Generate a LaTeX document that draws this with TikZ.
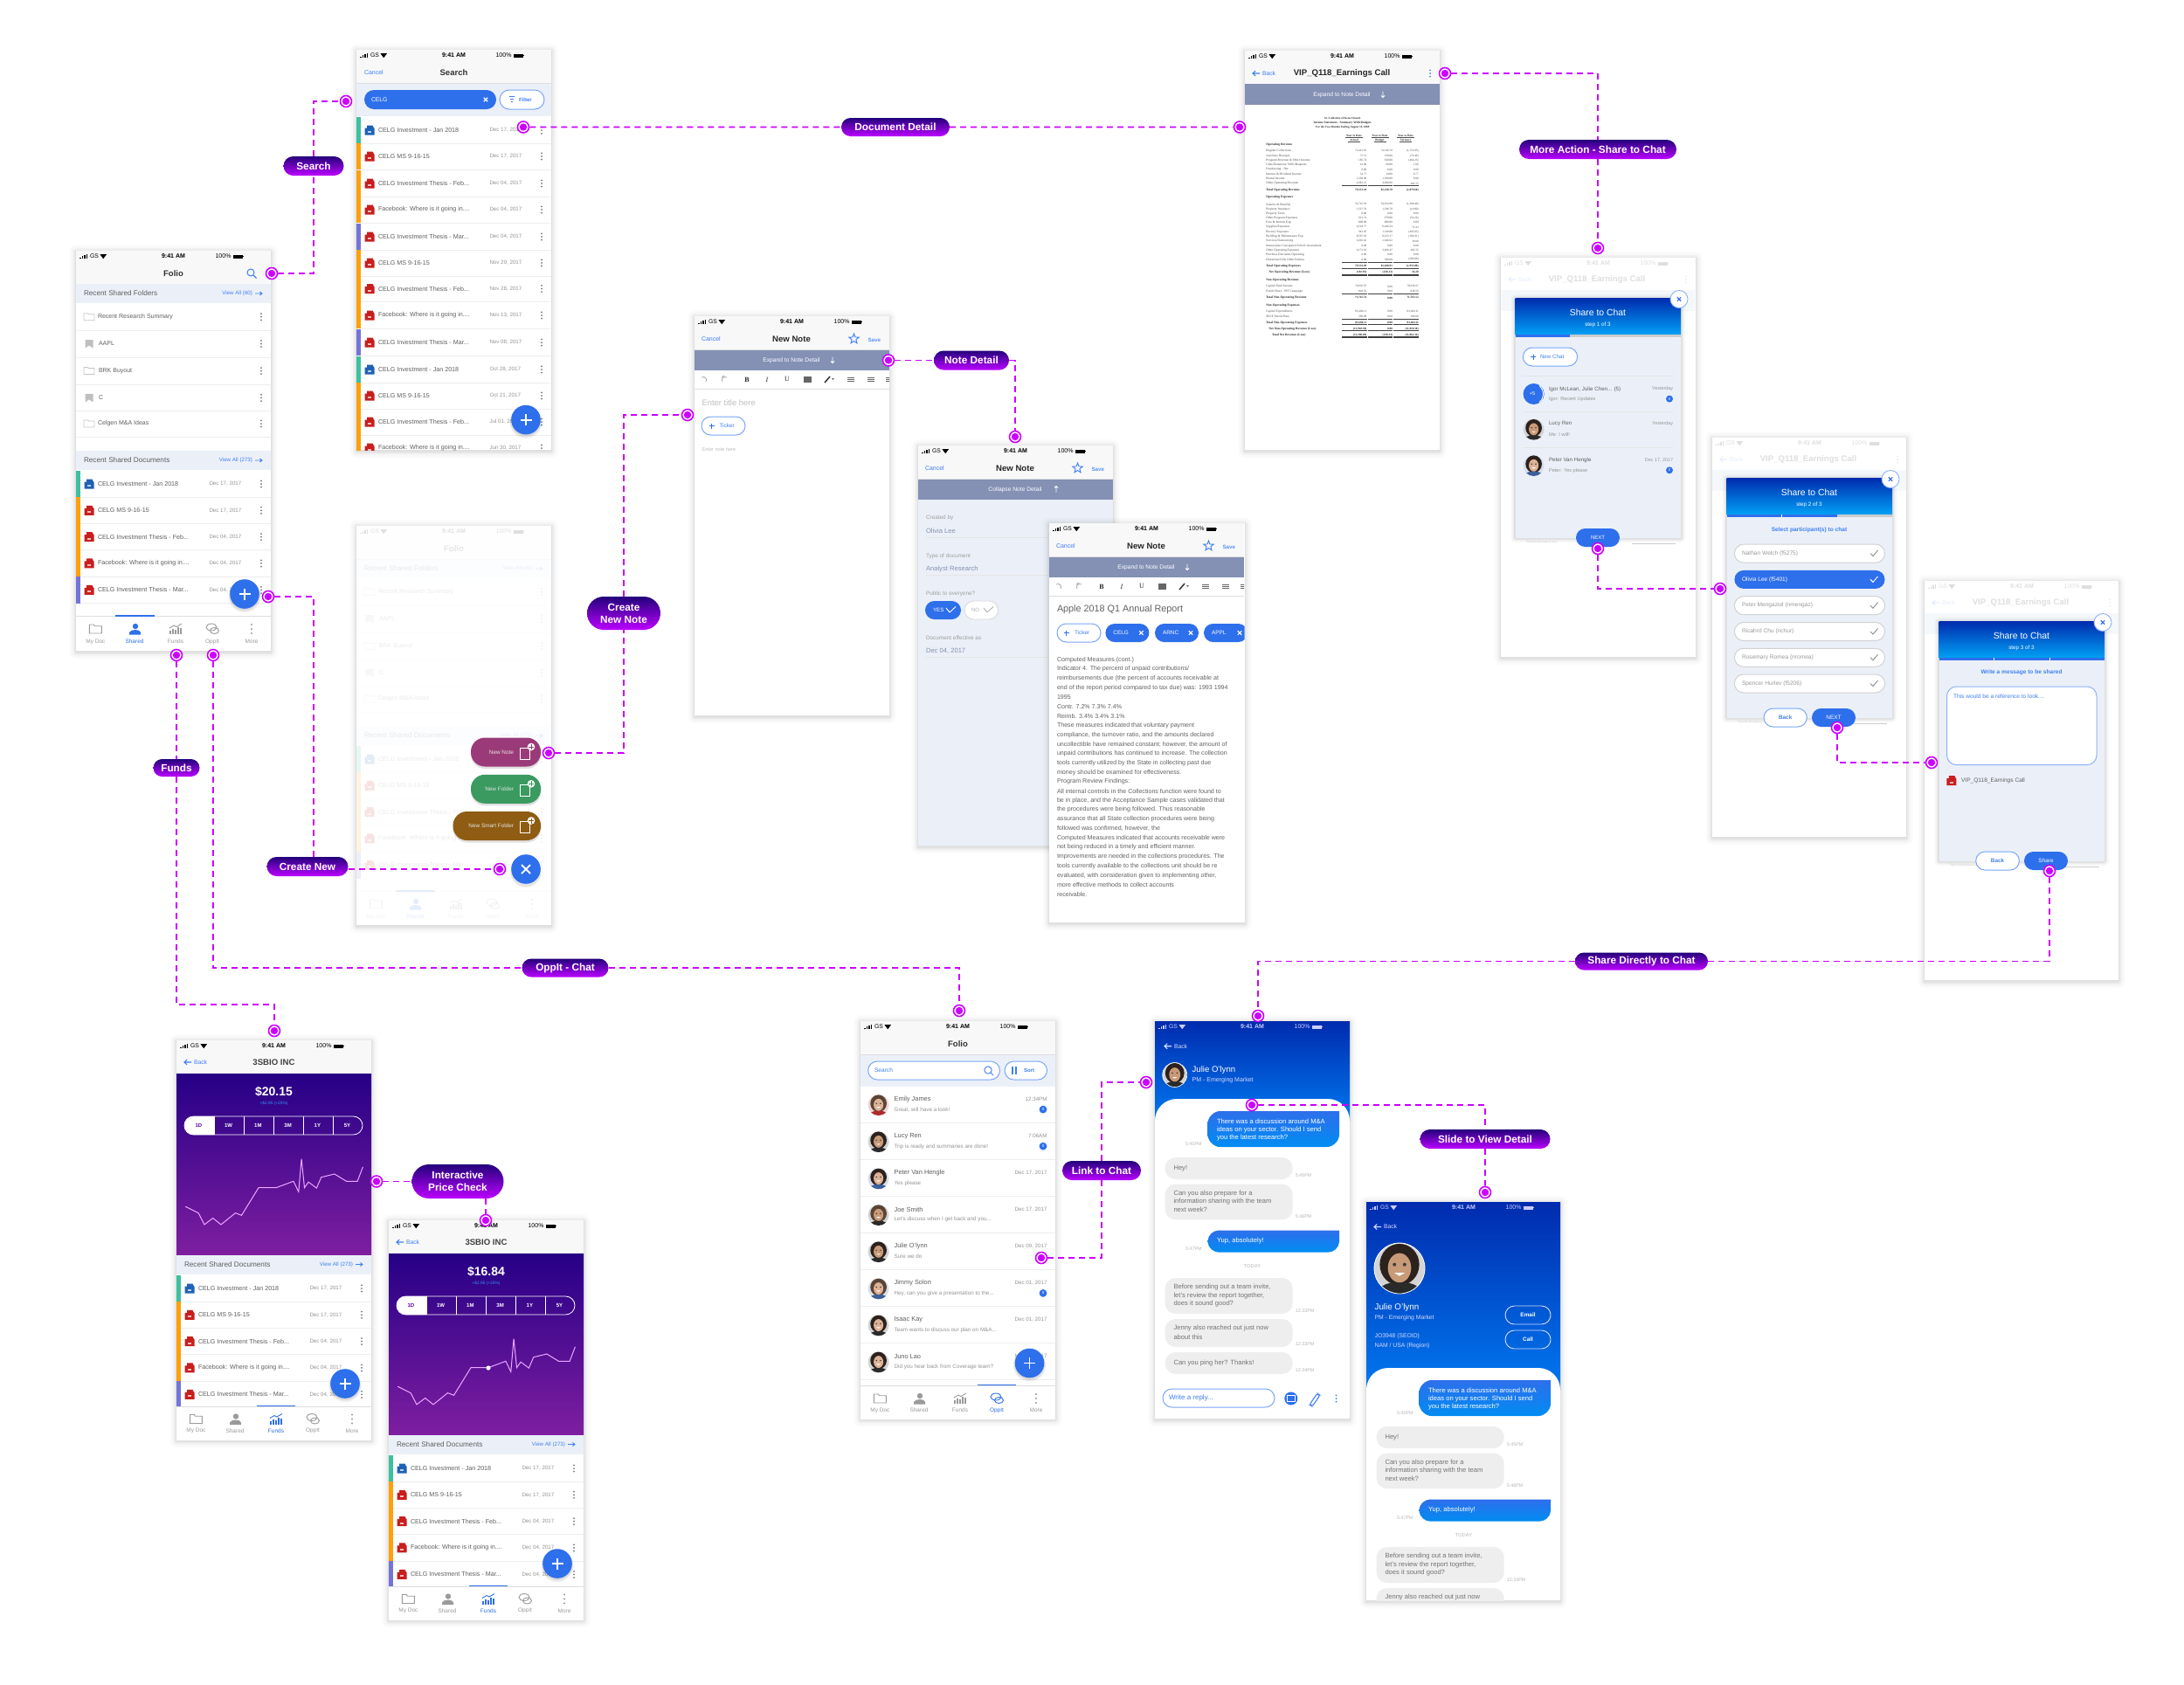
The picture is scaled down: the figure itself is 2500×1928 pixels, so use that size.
\documentclass[tikz,border=0pt]{standalone}
\usepackage{fontspec}
\setmainfont{Liberation Sans}
\newfontfamily\serf{Liberation Serif}
\usetikzlibrary{shapes.misc,shapes.geometric,calc}
\definecolor{cmag}{HTML}{CC00FF}
\definecolor{cblue}{HTML}{2E6FEB}
\definecolor{clink}{HTML}{3F7FF5}
\definecolor{cbandl}{HTML}{EBF0F8}
\definecolor{cband}{HTML}{8490B4}
\definecolor{ctxt}{HTML}{5E5E5E}
\definecolor{cdate}{HTML}{949494}
\definecolor{cicon}{HTML}{9A9A9A}
\definecolor{cnav}{HTML}{F8F8F8}
\definecolor{csep}{HTML}{EDEDED}
\definecolor{cteal}{HTML}{3CC0A0}
\definecolor{corg}{HTML}{FF9F0A}
\definecolor{cper}{HTML}{7474D8}
\definecolor{cred}{HTML}{C81E1E}
\definecolor{cdocb}{HTML}{1F62B5}
\definecolor{cbub}{HTML}{EEEEEE}
\definecolor{cptop}{HTML}{260086}
\definecolor{cpbot}{HTML}{7E1EA0}
\definecolor{chtop}{HTML}{002BAE}
\definecolor{chbot}{HTML}{0078F0}
\definecolor{cnn}{HTML}{9B3A78}
\definecolor{cnf}{HTML}{3A9A60}
\definecolor{cns}{HTML}{8E5C12}
\pgfdeclarelayer{ph}\pgfdeclarelayer{cn}\pgfsetlayers{ph,cn,main}
\newcounter{nn}
\tikzset{
  txn/.style={inner sep=0pt,outer sep=0pt,anchor=west},
  sepl/.style={draw=csep,line width=.8pt},
  conn/.style={draw=cmag,line width=1.7pt,dash pattern=on 7pt off 5pt},
  dotn/.style={circle,draw=cmag,fill=white,line width=1.6pt,minimum size=13pt,inner sep=0pt,
     path picture={\fill[cmag] (path picture bounding box.center) circle (4.2pt);}},
  pillsty/.style={rounded rectangle,top color=cptop!92!black,bottom color=cmag!92!blue,text=white,inner sep=0pt,
     font=\fontsize{11.8}{14}\selectfont\bfseries,align=center},
  oval/.style={draw=clink!70,fill=white,line width=1pt},
}
\newcommand\tx[5][]{\stepcounter{nn}\node[txn,#1,text=#4,font=\fontsize{#3}{#3}\selectfont] (tx\arabic{nn}) at (#2) {#5};}
\newcommand\bx[5][]{\stepcounter{nn}\node[txn,#1,text=#4,font=\fontsize{#3}{#3}\selectfont\bfseries] (tx\arabic{nn}) at (#2) {#5};}
% phone base with soft shadow
\newcommand\mBase[2]{%
 \foreach \sft/\opc in {8/.012,6/.016,4/.022,2.5/.03,1.2/.04}{\fill[black,opacity=\opc,rounded corners=\sft pt] (-\sft,{-\sft+1}) rectangle ({#1+\sft},{#2+\sft+1.5});}
 \fill[white] (0,0) rectangle (#1,#2);}
\newcommand\mStatus[1]{%
 \foreach \i in {0,1,2,3}{\fill[#1] ({4+\i*2.5},{9-1.5-\i*1.2}) rectangle ++(1.7,{1.5+\i*1.2});}
 \tx{16,6.5}{6.8}{#1}{GS}
 \fill[#1] (27.5,4.2) -- (35,4.2) -- (31.2,9.2) -- cycle;
 \bx[anchor=center]{111.5,6.5}{7}{#1}{9:41 AM}
 \tx[anchor=east]{177.5,6.5}{7}{#1}{100\%}
 \fill[#1] (180,4.5) rectangle (191,8.5); \fill[#1] (191.4,5.6) rectangle (192.2,7.4);}
\newcommand\mNav{\fill[cnav] (0,0) rectangle (223,38.5); \draw[draw=black!13,line width=.8pt] (0,38.5) -- (223,38.5);}
\newcommand\mBack[3]{\draw[draw=#3,line width=1.1pt] ({#1+8},#2) -- (#1,#2) ({#1+3.2},{#2-3}) -- (#1,#2) -- ({#1+3.2},{#2+3}); \tx{{#1+11},#2}{6.8}{#3}{Back}}
\newcommand\mDots[3]{\foreach \i in {-3.6,0,3.6}{\fill[#3] (#1,{#2+\i}) circle (1pt);}}
\newcommand\mDocIc[3]{\begin{scope}[shift={(#1,#2)}]\fill[#3] (-5.5,-2.5) -- (-3,-2.5) -- (-3,-5.5) -- (3.5,-5.5) -- (5,-2.5) -- (5.5,-2.5) -- (5.5,5.5) -- (-5.5,5.5) -- cycle; \fill[white,opacity=.7] (-1.8,1) rectangle (1.8,3);\end{scope}}
\newcommand\mX[3]{\draw[draw=#3,line width=1.1pt] ({#1-2.2},{#2-2.2}) -- ({#1+2.2},{#2+2.2}) ({#1-2.2},{#2+2.2}) -- ({#1+2.2},{#2-2.2});}
\newcommand\mPl[4]{\draw[draw=#3,line width=#4] ({#1-3},#2) -- ({#1+3},#2) (#1,{#2-3}) -- (#1,{#2+3});}
\newcommand\mDoc[5]{%
 \fill[#2] (0,{#1-15}) rectangle (4.5,{#1+15.2});
 \mDocIc{15}{#1}{#3}
 \tx{25,#1}{7.15}{ctxt}{#4}
 \tx{152.5,#1}{6.2}{cdate}{#5}
 \mDots{212}{#1}{black!55}
 \draw[sepl] (4.5,{#1+15.2}) -- (223,{#1+15.2});}
\newcommand\mRa[2]{\mDoc{#1}{cteal}{cdocb}{CELG Investment - Jan 2018}{#2}}
\newcommand\mRb[2]{\mDoc{#1}{corg}{cred}{CELG MS 9-16-15}{#2}}
\newcommand\mRc[2]{\mDoc{#1}{corg}{cred}{CELG Investment Thesis - Feb...}{#2}}
\newcommand\mRd[2]{\mDoc{#1}{corg}{cred}{Facebook: Where is it going in....}{#2}}
\newcommand\mRe[2]{\mDoc{#1}{cper}{cred}{CELG Investment Thesis - Mar...}{#2}}
\newcommand\mFive[1]{\mRa{#1}{Dec 17, 2017}\mRb{#1+30.3}{Dec 17, 2017}\mRc{#1+60.6}{Dec 04, 2017}\mRd{#1+90.9}{Dec 04, 2017}\mRe{#1+121.4}{Dec 04, 2017}}
\newcommand\mHdr[3]{\fill[cbandl] (0,{#1-11}) rectangle (223,{#1+11});
 \tx{9,#1}{8.2}{ctxt}{#2}
 \tx[anchor=east]{202,#1}{6.2}{clink}{#3}
 \draw[draw=clink,line width=.9pt] (205,#1) -- (213,#1) (210.5,{#1-2}) -- (213,#1) -- (210.5,{#1+2});}
\newcommand\mFab[2]{\fill[black,opacity=.07] (#1,{#2+2.5}) circle (18.5); \fill[black,opacity=.08] (#1,{#2+1.5}) circle (17.5); \fill[cblue] (#1,#2) circle (16.8);
 \draw[draw=white,line width=1.8pt] ({#1-6.5},#2) -- ({#1+6.5},#2) (#1,{#2-6.5}) -- (#1,{#2+6.5});}
\newcommand\mTabIcon[4]{\begin{scope}[shift={(#2,#3)}]\ifcase#1\or
 \draw[draw=#4,line width=.9pt] (-7,5) -- (-7,-5) -- (-2,-5) -- (-1,-3.3) -- (7,-3.3) -- (7,5) -- cycle;
 \or \fill[#4] (1,-3) circle (3.2); \fill[#4] (-6,6.5) -- (-6,4) .. controls (-4,0) and (6,0) .. (7,4) -- (7,6.5) -- cycle;
 \or \foreach \q/\rr in {-6/2,-3/0,0/1,3/-2,6/-1}{\fill[#4] ({\q-1},\rr) rectangle ({\q+1},6);}\draw[draw=#4,line width=.9pt] (-7,-1) -- (-2,-4) -- (1,-2.5) -- (7,-6);
 \or \draw[draw=#4,line width=.9pt] (-1,-2) ellipse (6 and 4); \draw[draw=#4,line width=.9pt] (2.5,2) ellipse (5 and 3.5);
 \or \foreach \q in {-5,0,5}{\fill[#4] (0,\q) circle (1.1);}
 \fi\end{scope}}
\newcommand\mTabs[4]{\fill[white] (0,#2) rectangle (223,{#2+38.5}); \draw[draw=black!13,line width=.8pt] (0,#2) -- (223,#2);
 \foreach \i/\xx/\lab in {1/22.4/My Doc,2/67/Shared,3/114/Funds,4/156/OppIt,5/201/More}{%
  \ifnum\i=#1 \def\tcol{cblue}\else\def\tcol{cicon}\fi
  \mTabIcon{\i}{\xx}{#3}{\tcol}
  \tx[anchor=center]{\xx,#4}{6.5}{\tcol}{\lab}}
 \ifcase#1\or\or\fill[cblue] (45,{#2-1.5}) rectangle (90,#2);\or\fill[cblue] (91.5,{#2-1.5}) rectangle (136,#2);\or\fill[cblue] (134,{#2-1.5}) rectangle (178,#2);\fi}
\newcommand\mFolderIc[2]{\draw[draw=black!22,line width=.8pt] ({#1-6},{#2+4}) -- ({#1-6},{#2-4}) -- ({#1-1.5},{#2-4}) -- ({#1-.5},{#2-3}) -- ({#1+6},{#2-3}) -- ({#1+6},{#2+4}) -- cycle;}
\newcommand\mMarkIc[2]{\fill[black!25] ({#1-4.5},{#2-4.5}) -- ({#1+4.5},{#2-4.5}) -- ({#1+4.5},{#2+5}) -- (#1,{#2+2}) -- ({#1-4.5},{#2+5}) -- cycle;}
\newcommand\mFolderRow[4]{\ifnum#2=0 \mFolderIc{15}{#1}\else\mMarkIc{15}{#1}\fi
 \tx{#3,#1}{7}{ctxt}{#4}\mDots{212}{#1}{black!55}\draw[sepl] (0,{#1+15.4}) -- (223,{#1+15.4});}
\newcommand\mFolio[1]{%
 \mNav\mStatus{black}
 \bx[anchor=center]{111.5,26}{9.5}{black!80}{Folio}
 #1
 \mHdr{49}{Recent Shared Folders}{View All (60)}
 \mFolderRow{75.7}{0}{25}{Recent Research Summary}
 \mFolderRow{106.5}{1}{26}{AAPL}
 \mFolderRow{137.6}{0}{26}{BRK Buyout}
 \mFolderRow{168.4}{1}{26}{C}
 \mFolderRow{198}{0}{25}{Celgen M\&A Ideas}
 \mHdr{240}{Recent Shared Documents}{View All (273)}
 \mFive{267}
 \mTabs{2}{418.5}{433}{447.5}}
\newcommand\mStar[2]{\begin{scope}[shift={(#1,#2)}]\draw[draw=clink,line width=.9pt] (0,-6) -- (1.47,-2.02) -- (5.7,-1.85) -- (2.38,.77) -- (3.5,4.85) -- (0,2.5) -- (-3.5,4.85) -- (-2.38,.77) -- (-5.7,-1.85) -- (-1.47,-2.02) -- cycle;\end{scope}}
\newcommand\mBandArrow[3]{\draw[draw=white,line width=.9pt] (#1,{#2-3.5*#3}) -- (#1,{#2+3.5*#3}) ({#1-2},{#2+1.5*#3}) -- (#1,{#2+3.5*#3}) -- ({#1+2},{#2+1.5*#3});}
\newcommand\mNote[3]{%
 \mNav\mStatus{black}
 \tx{8,26}{7}{clink}{Cancel}
 \bx[anchor=center]{111,26}{9.6}{black!85}{New Note}
 \mStar{182.5}{26}
 \bx{198.5,27}{6.2}{clink!85}{Save}
 \fill[cband] (0,38.5) rectangle (223,62);
 \tx[anchor=center]{#3,50.3}{6.7}{white}{#1}
 \mBandArrow{#3+47}{50}{#2}}
\newcommand\mToolbar{\begin{scope}
 \clip (0,62) rectangle (223,83);
 \draw[draw=black!35,line width=.8pt] (8,70) .. controls (12,68) and (15,72) .. (13,75) (31,70) -- (34,68);
 \draw[draw=black!35,line width=.8pt] (37,70) .. controls (33,68) and (30,72) .. (32,75);
 \tx[anchor=center]{60,72.4}{8}{black!85}{\serf\bfseries B}
 \tx[anchor=center]{83,72.4}{8}{black!85}{\serf\itshape I}
 \tx[anchor=center]{106,72.4}{8}{black!85}{\serf U}
 \fill[black!60] (125,69) rectangle (134,76);
 \draw[draw=black!80,line width=1.5pt] (149,76) -- (155,69);
 \fill[black!60] (157,71) -- (160,71) -- (158.5,73) -- cycle;
 \foreach \qq in {178,201,222}{\draw[draw=black!60,line width=.8pt] ({\qq-3},70) -- ({\qq+5},70) ({\qq-3},72.4) -- ({\qq+5},72.4) ({\qq-3},74.8) -- ({\qq+5},74.8);}
 \end{scope}
 \draw[draw=black!12,line width=1pt] (0,83) -- (223,83);}
\newcommand\mAv[6]{\begin{scope}\clip (#1,#2) circle (#3);
 \fill[#6!20!white] (#1,#2) circle (#3);
 \fill[#4] (#1,{#2-.15*#3}) ellipse ({.78*#3} and {.82*#3});
 \fill[#6] (#1,{#2+1.15*#3}) ellipse ({#3} and {.62*#3});
 \fill[#5] (#1,{#2-.02*#3}) ellipse ({.46*#3} and {.58*#3});
 \fill[black!75] ({#1-.2*#3},{#2-.15*#3}) circle ({.07*#3}); \fill[black!75] ({#1+.2*#3},{#2-.15*#3}) circle ({.07*#3});
 \fill[white] ({#1-.2*#3},{#2+.18*#3}) -- ({#1+.2*#3},{#2+.18*#3}) -- (#1,{#2+.3*#3}) -- cycle;
 \end{scope}}
\definecolor{sk1}{HTML}{DDB296}\definecolor{sk2}{HTML}{C99A78}\definecolor{hr1}{HTML}{2B211D}\definecolor{hr2}{HTML}{5A4436}
\definecolor{st1}{HTML}{B02A2A}\definecolor{st2}{HTML}{2A2A2A}\definecolor{st3}{HTML}{3C5F9A}
\newcommand\mPerson[6]{% y name msg when badge avatarcolours
 \mAv{20.6}{#1+6.3}{12}#6
 \tx{38.6,#1}{7.4}{ctxt}{#2}
 \tx{38.6,{#1+11.6}}{6.3}{cdate}{#3}
 \tx[anchor=east]{213.5,#1}{6.2}{cdate}{#4}
 \ifnum#5=1 \fill[cblue] (209,{#1+11.4}) circle (4.4); \tx[anchor=center]{209,{#1+11.4}}{4.5}{white}{0}\fi
 \draw[sepl] (0,{#1+26.4}) -- (223,{#1+26.4});}
% right-hand message bubble: square top right corner, others round
\newcommand\mBlueBub[3]{\path[top color=cblue,bottom color=chbot!85!cyan] (60.5,{#1+#3}) .. controls (60.5,{#1+.45*#3}) and ({60.5+.55*#3},#1) .. ({60.5+#3},#1) -- (211,#1) -- (211,{#2-#3}) .. controls (211,{#2-.45*#3}) and ({211-.55*#3},#2) .. ({211-#3},#2) -- ({60.5+#3},#2) .. controls ({60.5+.55*#3},#2) and (60.5,{#2-.45*#3}) .. (60.5,{#2-#3}) -- cycle;}
\newcommand\mChatMsgs{%
 \mBlueBub{103}{144}{14}
 \tx{71,115.2}{7.6}{white}{There was a discussion around M\&A}
 \tx{71,124.5}{7.6}{white}{ideas on your sector. Should I send}
 \tx{71,133.8}{7.6}{white}{you the latest research?}
 \tx{35,140.8}{5.4}{black!28}{5:40PM}
 \fill[cbub,rounded corners=12pt] (11.6,156) rectangle (157.7,181);
 \tx{21.5,169}{7.6}{black!55}{Hey!}
 \tx{160.8,177}{5.4}{black!28}{5:45PM}
 \fill[cbub,rounded corners=12pt] (11.6,186.5) rectangle (157.7,227.3);
 \tx{21.5,197.5}{7.6}{black!55}{Can you also prepare for a}
 \tx{21.5,206.8}{7.6}{black!55}{information sharing with the team}
 \tx{21.5,216}{7.6}{black!55}{next week?}
 \tx{160.8,223.3}{5.4}{black!28}{5:46PM}
 \mBlueBub{239.6}{264.5}{12}
 \tx{71,252}{7.6}{white}{Yup, absolutely!}
 \tx{35,260.8}{5.4}{black!28}{5:47PM}
 \tx[anchor=center]{111.4,280.4}{5.8}{black!28}{TODAY}
 \fill[cbub,rounded corners=12pt] (11.6,294) rectangle (157.7,335);
 \tx{21.5,305}{7.6}{black!55}{Before sending out a team invite,}
 \tx{21.5,314.5}{7.6}{black!55}{let's review the report together,}
 \tx{21.5,324}{7.6}{black!55}{does it sound good?}
 \tx{160.8,331.5}{5.4}{black!28}{12:33PM}
 \fill[cbub,rounded corners=12pt] (11.6,341) rectangle (157.7,373);
 \tx{21.5,352}{7.6}{black!55}{Jenny also reached out just now}
 \tx{21.5,361.3}{7.6}{black!55}{about this}
 \tx{160.8,370}{5.4}{black!28}{12:33PM}
 \fill[cbub,rounded corners=12pt] (11.6,379) rectangle (157.7,404);
 \tx{21.5,391.5}{7.6}{black!55}{Can you ping her? Thanks!}
 \tx{160.8,400}{5.4}{black!28}{12:34PM}}
\newcommand\mCard[2]{\fill[white,rounded corners=25pt] (0,#1) rectangle (#2,{#1+70});}
\newcommand\mFundsPhone[2]{%
 \mBase{223}{457}
 \mNav\mStatus{black}
 \mBack{9}{25}{clink}
 \bx[anchor=center]{111.5,25}{9.6}{black!75}{3SBIO INC}
 \shade[top color=cptop,bottom color=cpbot] (0,38.5) rectangle (223,245);
 \bx[anchor=center]{111.5,59}{14}{white}{#1}
 \tx[anchor=center]{111.5,72}{4.8}{clink!80!cyan}{+\$2.95 (+25\%)}
 \begin{scope}\clip (0,80) rectangle (43,115);\fill[white,rounded corners=10.5pt] (9,87) rectangle (80,108);\end{scope}
 \draw[draw=white,line width=.8pt,rounded corners=10.5pt] (9,87) rectangle (213,108);
 \foreach \q in {43,77,111,145.5,179}{\draw[draw=white,line width=.8pt] (\q,87) -- (\q,108);}
 \bx[anchor=center]{25.4,97.5}{6}{cptop!70!cmag}{1D}
 \foreach \q/\lab in {59.6/1W,93.4/1M,127.6/3M,161.4/1Y,195.5/5Y}{\bx[anchor=center]{\q,97.5}{6}{white}{\lab}}
 \draw[draw=cmag!35!white,line width=1pt] (10.2,190.2) -- (25.1,197.6) -- (32,210.9) -- (41.7,203.5) -- (51,210.9) -- (67.5,197.6) -- (74.5,200.3) -- (94,168.7) -- (114,168.7) -- (133.9,161.3) -- (139.8,173.3) -- (143.1,135.6) -- (146.5,168.7) -- (151.1,162.2) -- (160.4,169.1) -- (165.7,156.7) -- (180.9,153) -- (194.5,161.3) -- (207.1,161.3) -- (213.4,144.8);
 #2
 \mHdr{256.5}{Recent Shared Documents}{View All (273)}
 \mFive{284}
 \mTabs{3}{419}{433.5}{447}
 \mFab{193}{393}}
\newcommand\mShareBg{%
 \begin{scope}[opacity=.13]
 \mStatus{black}
 \mBack{9}{25}{clink}
 \bx[anchor=center]{110,25}{9.6}{black}{VIP\_Q118\_Earnings Call}
 \mDots{212}{25}{clink}
 \end{scope}
 \fill[cbandl!50!white] (0,37) rectangle (222,61);
 \begin{scope}[opacity=.2]\tx{29,326}{3.4}{black}{\serf Total Net Revenue (Loss)}\draw[draw=black,line width=.4pt] (150,327) -- (200,327);\end{scope}}
\newcommand\mModal[3]{%
 \foreach \sft/\opc in {5/.03,3/.04,1.5/.06}{\fill[black,opacity=\opc,rounded corners=\sft pt] ({16.5-\sft},{46-\sft+1}) rectangle ({206+\sft},{321+\sft});}
 \fill[cbandl] (16.5,46) rectangle (206,321);
 \shade[top color=chtop,bottom color=chbot!70!cyan] (16.5,46) rectangle (206,88);
 \tx[anchor=center]{111,62.5}{10.4}{white}{Share to Chat}
 \tx[anchor=center]{111,77}{6.3}{white}{#1}
 \fill[black!20] (16.5,88) rectangle (206,91);
 \fill[cblue] (16.5,88) rectangle (#2,91);
 #3
 \fill[white] (204,47.5) circle (10); \draw[draw=clink!60,line width=.9pt] (204,47.5) circle (10);
 \mX{204}{47.5}{cblue}}
\newcommand\mOpt[3]{\ifnum#3=1 \fill[cblue,rounded corners=10.5pt] (25.4,{#1-10.5}) rectangle (197.5,{#1+10.5});\tx{34,#1}{6.6}{white}{#2}\def\ckc{white}\else
 \draw[draw=black!18,fill=white,line width=1pt,rounded corners=10.5pt] (25.4,{#1-10.5}) rectangle (197.5,{#1+10.5});\tx{34,#1}{6.6}{black!40}{#2}\def\ckc{black!45}\fi
 \draw[draw=\ckc,line width=.9pt] (181,#1) -- (184,{#1+3}) -- (189.5,{#1-3.5});}
\newcommand\mBtnO[3]{\draw[oval,rounded corners=10.5pt] (#1,310) rectangle (#2,331); \bx[anchor=center]{{(#1+#2)/2},320.5}{6.4}{clink}{#3}}
\newcommand\mBtnF[3]{\fill[cblue,rounded corners=10.5pt] (#1,310) rectangle (#2,331); \tx[anchor=center]{{(#1+#2)/2},320.5}{6.4}{white}{#3}}
\newcommand\mFr[5]{\tx{24.3,#1}{3.6}{black!70}{\serf #2}\tx[anchor=east]{139.3,#1}{3.3}{black!70}{\serf #3}\tx[anchor=east]{169,#1}{3.3}{black!70}{\serf #4}\tx[anchor=east]{198.7,#1}{3.3}{black!70}{\serf #5}}
\newcommand\mFb[6]{\bx{#6,#1}{3.6}{black!85}{\serf #2}\bx[anchor=east]{139.3,#1}{3.3}{black!85}{\serf #3}\bx[anchor=east]{169,#1}{3.3}{black!85}{\serf #4}\bx[anchor=east]{198.7,#1}{3.3}{black!85}{\serf #5}}
\newcommand\mLn[1]{\foreach \q in {111,140.5,170}{\draw[draw=black!75,line width=.45pt] (\q,#1) -- ({\q+28.5},#1);}}
\newcommand\mBL[2]{\tx{9,{156.4+10.73*#1}}{7.1}{black!62}{#2}}
\begin{document}
\begin{tikzpicture}[x=1pt,y=-1pt,line width=1pt]
\useasboundingbox (0,0) rectangle (2500,1928);
\begin{pgfonlayer}{ph}
\fill[white] (0,0) rectangle (2500,1928);
% ---- Folio main
\begin{scope}[shift={(87,287)}]
 \mBase{223}{458}
 \mFolio{\draw[draw=clink,line width=1pt] (200,25) circle (4); \draw[draw=clink,line width=1.1pt] (203,28) -- (206.5,31.5);}
 \mFab{193}{393}
\end{scope}
% ---- Search
\begin{scope}[shift={(408,57)}]
 \mBase{223}{458}
 \begin{scope}\clip (0,0) rectangle (223,458);
 \mNav\mStatus{black}
 \tx{9,26}{7}{clink}{Cancel}
 \bx[anchor=center]{111.5,26}{9.5}{black!80}{Search}
 \fill[cbandl] (0,39) rectangle (223,75.7);
 \fill[cblue,rounded corners=11pt] (9,46) rectangle (160,68);
 \tx{17,57}{6.8}{white}{CELG}
 \mX{148}{57}{white}
 \draw[oval,rounded corners=11pt] (164,46) rectangle (215,68);
 \draw[draw=clink,line width=.9pt] (174.5,53.5) -- (181,53.5) (175.8,56.5) -- (179.8,56.5) (177,59.5) -- (178.7,59.5);
 \bx{186,57}{6}{clink}{Filter}
 \mRa{92.2}{Dec 17, 2017}\mRb{122}{Dec 17, 2017}\mRc{153}{Dec 04, 2017}\mRd{183}{Dec 04, 2017}\mRe{214}{Dec 04, 2017}
 \mRb{244}{Nov 29, 2017}\mRc{273.5}{Nov 28, 2017}\mRd{304}{Nov 13, 2017}\mRe{335}{Nov 08, 2017}
 \mRa{366}{Oct 28, 2017}\mRb{396}{Oct 21, 2017}\mRc{426}{Jul 01, 2017}\mRd{456}{Jun 30, 2017}
 \end{scope}
 \mFab{194}{423.6}
\end{scope}
% ---- Blurred folio with create menu
\begin{scope}[shift={(408,602)}]
 \mBase{223}{457}
 \begin{scope}[opacity=.12]\mFolio{}\end{scope}
 \foreach \yy/\xl/\cc/\lab in {259/131/cnn/New Note,301.3/131/cnf/New Folder,343.5/110.5/cns/New Smart Folder}{%
  \fill[black,opacity=.12,rounded corners=16pt] (\xl,{\yy-15.5}) rectangle (211.5,{\yy+19});
  \fill[fill=\cc,rounded corners=16pt] (\xl,{\yy-16.5}) rectangle (211,{\yy+16.5});
  \tx[anchor=east]{180,\yy}{6.4}{white!90!black}{\lab}
  \draw[draw=white,line width=.9pt] (187,{\yy-5}) rectangle (198,{\yy+8});
  \fill[white] (200,{\yy-6}) circle (4.3);
  \mPl{200}{\yy-6}{\cc}{.9pt}}
 \fill[black,opacity=.1] (194,396) circle (17.5);
 \fill[cblue] (194,393) circle (16.8);
 \draw[draw=white,line width=1.8pt] (189,388) -- (199,398) (189,398) -- (199,388);
\end{scope}
% ---- New note 1
\begin{scope}[shift={(795,362)}]
 \mBase{223}{457}
 \mNote{Expand to Note Detail}{1}{111}
 \mToolbar
 \tx{8.6,99}{9.4}{black!25}{Enter title here}
 \draw[oval,rounded corners=10.5pt] (8,115) rectangle (58,136);
 \mPl{19.5}{125.5}{cblue}{1pt}
 \tx{28.5,125.5}{6.4}{clink}{Ticker}
 \tx{8.6,152}{5.6}{black!25}{Enter note here}
\end{scope}
% ---- Note detail
\begin{scope}[shift={(1051,510)}]
 \mBase{223}{458}
 \fill[cbandl] (0,38) rectangle (223,458);
 \mNote{Collapse Note Detail}{-1}{111}
 \tx{9,83}{6.4}{black!38}{Created by}
 \tx{9,98}{7.6}{cband}{Olivia Lee}
 \draw[draw=black!10,line width=.7pt] (9,105) -- (223,105);
 \tx{9,126.4}{6.4}{black!38}{Type of document}
 \tx{9,141.5}{7.6}{cband}{Analyst Research}
 \draw[draw=black!10,line width=.7pt] (9,148) -- (223,148);
 \tx{9,170}{6.4}{black!38}{Public to everyone?}
 \fill[cblue,rounded corners=10.5pt] (8,178) rectangle (49,199);
 \tx{17,188.5}{6.2}{white}{YES}
 \draw[draw=white,line width=.9pt] (32,186) -- (36,191) -- (43,184.5);
 \draw[draw=black!15,fill=white,line width=.9pt,rounded corners=10.5pt] (53,178) rectangle (91.5,199);
 \tx{61,188.5}{6.2}{black!30}{NO}
 \draw[draw=black!30,line width=.9pt] (75,186) -- (79,191) -- (86,184.5);
 \tx{9,220}{6.4}{black!38}{Document effective as}
 \tx{9,235}{7.6}{cband}{Dec 04, 2017}
 \draw[draw=black!10,line width=.7pt] (9,242) -- (223,242);
\end{scope}
% ---- Apple note
\begin{scope}[shift={(1201,599)}]
 \mBase{224}{457}
 \mNote{Expand to Note Detail}{1}{111}
 \mToolbar
 \tx{9,99}{10.8}{black!62}{Apple 2018 Q1 Annual Report}
 \draw[oval,rounded corners=10.5pt] (9,115) rectangle (59,136);
 \mPl{19.5}{125.5}{cblue}{1pt}
 \tx{29,125.5}{6.4}{clink}{Ticker}
 \begin{scope}\clip (0,110) rectangle (223.5,140);
 \foreach \q/\lab in {64.4/CELG,121/ARNC,177/APPL}{%
  \fill[cblue,rounded corners=10.5pt] (\q,115) rectangle ({\q+50},136);
  \tx{{\q+9},125.5}{6.4}{white}{\lab}
  \mX{\q+41}{125.5}{white}}
 \end{scope}
 \mBL{0}{Computed Measures (cont.)}
 \mBL{1}{Indicator 4. The percent of unpaid contributions/}
 \mBL{2}{reimbursements due (the percent of accounts receivable at}
 \mBL{3}{end of the report period compared to tax due) was: 1993 1994}
 \mBL{4}{1995}
 \mBL{5}{Contr. 7.2\% 7.3\% 7.4\%}
 \mBL{6}{Reimb. 3.4\% 3.4\% 3.1\%}
 \mBL{7}{These measures indicated that voluntary payment}
 \mBL{8}{compliance, the turnover ratio, and the amounts declared}
 \mBL{9}{uncollectible have remained constant; however, the amount of}
 \mBL{10}{unpaid contributions has continued to increase. The collection}
 \mBL{11}{tools currently utilized by the State in collecting past due}
 \mBL{12}{money should be examined for effectiveness.}
 \mBL{13}{Program Review Findings:}
 \mBL{14}{All internal controls in the Collections function were found to}
 \mBL{15}{be in place, and the Acceptance Sample cases validated that}
 \mBL{16}{the procedures were being followed. Thus reasonable}
 \mBL{17}{assurance that all State collection procedures were being}
 \mBL{18}{followed was confirmed, however, the}
 \mBL{19}{Computed Measures indicated that accounts receivable were}
 \mBL{20}{not being reduced in a timely and efficient manner.}
 \mBL{21}{Improvements are needed in the collections procedures. The}
 \mBL{22}{tools currently available to the collections unit should be re}
 \mBL{23}{evaluated, with consideration given to implementing other,}
 \mBL{24}{more effective methods to collect accounts}
 \mBL{25}{receivable.}
\end{scope}
% ---- VIP doc
\begin{scope}[shift={(1425,58)}]
 \mBase{223}{457}
 \mNav\mStatus{black}
 \mBack{9}{26}{clink}
 \bx[anchor=center]{111,26}{9.6}{black!85}{VIP\_Q118\_Earnings Call}
 \mDots{212}{26}{clink}
 \fill[cband] (0,38) rectangle (223,62);
 \tx[anchor=center]{111,50.3}{6.7}{white}{Expand to Note Detail}
 \mBandArrow{158}{50}{1}
 \bx[anchor=center]{111.7,77.7}{3.2}{black!85}{\serf St. Catherine of Siena Church}
 \bx[anchor=center]{111.7,82.7}{3.5}{black!85}{\serf Income Statement - Summary With Budgets}
 \bx[anchor=center]{111.7,87.7}{3.2}{black!85}{\serf For the Two Months Ending August 31, 2009}
 \foreach \q/\lab in {125/Actual,154.5/Budget,184/Variance}{%
  \bx[anchor=center]{\q,97.7}{3.3}{black!85}{\serf Year to Date}
  \draw[draw=black!70,line width=.35pt] ({\q-10},99.3) -- ({\q+10},99.3);
  \bx[anchor=center]{\q,102.7}{3.3}{black!85}{\serf \lab}
  \draw[draw=black!70,line width=.35pt] ({\q-7},104.3) -- ({\q+7},104.3);}
 \bx{24.3,108}{3.6}{black!85}{\serf Operating Revenue}
 \mFr{115}{Regular Collections}{72,422.65}{74,146.70}{(1,723.95)}
 \mFr{120.3}{Auxiliary Receipts}{75.51}{150.00}{(74.49)}
 \mFr{125.7}{Program Revenue \& Other Income}{185.74}{650.00}{(464.26)}
 \mFr{130.7}{Gifts/Donations/ Wills/Bequests}{61.00}{60.00}{1.00}
 \mFr{136}{Fundraising - Net}{0.00}{0.00}{0.00}
 \mFr{141.3}{Interest \& Dividend Income}{34.77}{34.00}{0.77}
 \mFr{146.7}{Rental Income}{1,590.00}{1,590.00}{0.00}
 \mFr{152}{Other Operating Revenue}{4,981.25}{4,600.00}{381.25}
 \mLn{154.3}
 \mFb{159.3}{Total Operating Revenue}{79,351.10}{81,230.70}{(1,879.60)}{24.3}
 \bx{24.3,168}{3.6}{black!85}{\serf Operating Expenses}
 \mFr{176}{Salaries \& Benefits}{53,716.59}{54,924.90}{(1,208.40)}
 \mFr{181.3}{Property Insurance}{1,527.70}{1,546.70}{(19.00)}
 \mFr{186.5}{Property Taxes}{0.00}{0.00}{0.00}
 \mFr{191.6}{Other Program Expenses}{913.74}{970.00}{(56.26)}
 \mFr{196.9}{Fees \& Interest Exp}{800.00}{800.00}{0.00}
 \mFr{202}{Supplies/Expenses}{6,518.77}{6,446.34}{72.43}
 \mFr{207.3}{Rectory Expenses}{943.95}{1,349.00}{(405.05)}
 \mFr{212.7}{Building \& Maintenance Exp}{8,507.26}{8,612.17}{(104.91)}
 \mFr{218}{Services/Outsourcing}{2,665.62}{2,646.62}{19.00}
 \mFr{223.3}{Immaculate Conception School Assessment}{0.00}{0.00}{0.00}
 \mFr{228.3}{Other Operating Expenses}{4,172.92}{3,666.47}{466.35}
 \mFr{233.7}{Purchase Discounts Operating}{0.00}{0.00}{0.00}
 \mFr{239}{Donations/Gifts Other Entities}{0.00}{500.00}{(500.00)}
 \mLn{242}
 \mFb{246.3}{Total Operating Expenses}{79,533.03}{81,468.91}{(1,935.88)}{24.3}
 \mLn{248.8}
 \mFb{253.7}{Net Operating Revenue (Loss)}{(181.93)}{(238.13)}{56.20}{27.5}
 \mLn{256.3}\mLn{257.3}
 \bx{24.3,263}{3.6}{black!85}{\serf Non-Operating Revenue}
 \mFr{270}{Capital Fund Income}{70,936.97}{0.00}{70,936.97}
 \mFr{275.3}{Parish Share - PIF Campaign}{828.56}{0.00}{828.56}
 \mLn{278.3}
 \mFb{283}{Total Non-Operating Revenue}{71,765.53}{0.00}{71,765.53}{24.3}
 \bx{24.3,291.7}{3.6}{black!85}{\serf Non-Operating Expenses}
 \mFr{298.7}{Capital Expenditures}{83,484.11}{0.00}{83,484.11}
 \mFr{304}{SECF Parish Plate}{200.00}{0.00}{200.00}
 \mLn{307}
 \mFb{311.3}{Total Non-Operating Expenses}{83,684.11}{0.00}{83,684.11}{24.3}
 \mLn{313.6}
 \mFb{318.3}{Net Non-Operating Revenue (Loss)}{(11,918.58)}{0.00}{(11,918.58)}{27.5}
 \mLn{320.6}
 \mFb{325.3}{Total Net Revenue (Loss)}{(12,100.49)}{(238.13)}{(11,862.36)}{31}
 \mLn{327.6}\mLn{328.6}
\end{scope}
% ---- Share step 1
\begin{scope}[shift={(1718,295)}]
 \mBase{223}{457}
 \mShareBg
 \mModal{step 1 of 3}{79}{}
 \draw[oval,rounded corners=10.5pt] (25.4,103) rectangle (87.6,124);
 \mPl{37}{113.5}{cblue}{1pt}
 \tx{45,113.5}{6.2}{clink}{New Chat}
 \draw[draw=black!10,line width=.7pt] (25.4,135.5) -- (197,135.5);
 \fill[cblue] (37.6,156) circle (12);
 \draw[draw=white,line width=.9pt] (44,146.5) .. controls (50,152) and (50,161) .. (44,165.5);
 \tx[anchor=center]{36,156}{5.6}{white}{+5}
 \tx{55,150.5}{6.2}{ctxt}{Igor McLean, Julie Chen... (5)}
 \tx{55,162}{5.6}{cdate}{Igor: Recent Updates}
 \tx[anchor=east]{197,150.5}{5.4}{cdate}{Yesterday}
 \fill[cblue] (193,161.6) circle (4); \tx[anchor=center]{193,161.6}{4.2}{white}{0}
 \draw[draw=black!10,line width=.7pt] (25.4,176) -- (197,176);
 \mAv{37.6}{196.6}{12}{hr1}{sk2}{st2}
 \tx{55,190.5}{6.2}{ctxt}{Lucy Ren}
 \tx{55,202}{5.6}{cdate}{Me: I will!}
 \tx[anchor=east]{197,190.5}{5.4}{cdate}{Yesterday}
 \draw[draw=black!10,line width=.7pt] (25.4,217.5) -- (197,217.5);
 \mAv{37.6}{238}{12}{hr1}{sk1}{st3}
 \tx{55,232}{6.2}{ctxt}{Peter Van Hengle}
 \tx{55,243.6}{5.6}{cdate}{Peter: Yes please}
 \tx[anchor=east]{197,232}{5.4}{cdate}{Dec 17, 2017}
 \fill[cblue] (193,243.3) circle (4); \tx[anchor=center]{193,243.3}{4.2}{white}{0}
 \fill[cblue,rounded corners=10.5pt] (86,310) rectangle (136,331);
 \tx[anchor=center]{111,320.5}{6}{white}{NEXT}
\end{scope}
% ---- Share step 2
\begin{scope}[shift={(1960,501)}]
 \mBase{222}{457}
 \mShareBg
 \mModal{step 2 of 3}{142.5}{\draw[draw=white,line width=.6pt] (79.5,88) -- (79.5,91);}
 \bx[anchor=center]{111,106}{6.6}{clink}{Select participant(s) to chat}
 \mOpt{132.6}{Nathan Welch (f5275)}{0}
 \mOpt{162.4}{Olivia Lee (f5401)}{1}
 \mOpt{192.2}{Peter Mengaziol (nmengaz)}{0}
 \mOpt{222}{Ricahrd Chu (nchur)}{0}
 \mOpt{251.8}{Rosemary Romea (nromea)}{0}
 \mOpt{281.5}{Spencer Hurlev (f5206)}{0}
 \mBtnO{59}{108.3}{Back}
 \mBtnF{114}{164}{NEXT}
\end{scope}
% ---- Share step 3
\begin{scope}[shift={(2203,665)}]
 \mBase{222}{457}
 \mShareBg
 \mModal{step 3 of 3}{206}{\draw[draw=white,line width=.6pt] (79.5,88) -- (79.5,91) (143,88) -- (143,91);}
 \bx[anchor=center]{111,104.5}{6.6}{clink}{Write a message to be shared}
 \draw[draw=clink!60,fill=white,line width=1pt,rounded corners=11pt] (25.5,121) rectangle (197,210.6);
 \tx{33,132}{6.6}{clink}{This would be a reference to look....}
 \mDocIc{30.8}{228.5}{cred}
 \tx{42,228.5}{6.6}{ctxt}{VIP\_Q118\_Earnings Call}
 \mBtnO{58.7}{108.4}{Back}
 \mBtnF{114}{164}{Share}
\end{scope}
% ---- Funds
\begin{scope}[shift={(202,1191)}]\mFundsPhone{\$20.15}{}\end{scope}
\begin{scope}[shift={(445,1397)}]\mFundsPhone{\$16.84}{\fill[white] (114,169) circle (2.6);}\end{scope}
% ---- OppIt folio
\begin{scope}[shift={(985,1169)}]
 \mBase{223}{455}
 \mNav\mStatus{black}
 \bx[anchor=center]{111.5,26}{9.5}{black!80}{Folio}
 \fill[cbandl] (0,39) rectangle (223,74.5);
 \draw[oval,rounded corners=10.5pt] (8.7,46) rectangle (159.5,67);
 \tx{16,56.5}{6.6}{clink}{Search}
 \draw[draw=clink,line width=.9pt] (146,56) circle (4.2); \draw[draw=clink,line width=.9pt] (149,59) -- (152,62);
 \draw[oval,rounded corners=10.5pt] (165,46) rectangle (213.5,67);
 \draw[draw=clink,line width=1.1pt] (174,52) -- (174,61) (178,52) -- (178,61);
 \bx{187,56.5}{6}{clink}{Sort}
 \mPerson{89.7}{Emily James}{Great, will have a look!}{12:34PM}{1}{{hr2}{sk1}{st1}}
 \mPerson{131.8}{Lucy Ren}{Trip is ready and summaries are done!}{7:06AM}{1}{{hr1}{sk2}{st2}}
 \mPerson{174}{Peter Van Hengle}{Yes please}{Dec 17, 2017}{0}{{hr1}{sk1}{st3}}
 \mPerson{215.7}{Joe Smith}{Let's discuss when I get back and you...}{Dec 17, 2017}{0}{{hr2}{sk2}{st2}}
 \mPerson{257.8}{Julie O'lynn}{Sure we do}{Dec 09, 2017}{0}{{hr1}{sk2}{st2}}
 \mPerson{300}{Jimmy Solon}{Hey, can you give a presentation to the...}{Dec 01, 2017}{1}{{hr2}{sk1}{st3}}
 \mPerson{342}{Isaac Kay}{Team wants to discuss our plan on M\&A...}{Dec 01, 2017}{0}{{hr1}{sk1}{st2}}
 \mPerson{384}{Juno Lao}{Did you hear back from Coverage team?}{Nov 21, 2017}{0}{{hr1}{sk1}{st2}}
 \mTabs{4}{417}{432}{445.5}
 \mFab{193.5}{391.5}
\end{scope}
% ---- Chat
\begin{scope}[shift={(1322,1169)}]
 \mBase{223}{455}
 \shade[top color=chtop,bottom color=chbot] (0,0) rectangle (223,114);
 \mStatus{white!80!blue}
 \mBack{11}{28.7}{white!85!blue}
 \mAv{22.7}{61.5}{14}{hr1}{sk2}{st2}
 \draw[draw=white!70,line width=.6pt] (22.7,61.5) circle (14);
 \tx{42.6,56}{9.6}{white}{Julie O'lynn}
 \tx{42.6,67.8}{7}{white!85!blue}{PM - Emerging Market}
 \mCard{89}{223}
 \mChatMsgs
 \draw[oval,rounded corners=10.5pt] (9,421) rectangle (137,442);
 \tx{16,431.5}{8}{clink}{Write a reply...}
 \fill[cblue] (155.8,432) circle (7.5);
 \draw[draw=white,line width=.8pt] (151.5,428.5) rectangle (160,435.5);
 \draw[draw=clink,line width=1.1pt,rounded corners=2.5pt] (177,439) -- (186,426) -- (189,428.5) -- (180,441) -- cycle;
 \mDots{207.5}{432}{clink}
\end{scope}
% ---- Contact detail
\begin{scope}[shift={(1564,1376)}]
 \mBase{222}{456}
 \shade[top color=chtop,bottom color=chbot] (0,0) rectangle (222,215);
 \mStatus{white!80!blue}
 \mBack{9}{28.5}{white!85!blue}
 \mAv{38}{76}{29}{hr1}{sk2}{st2}
 \draw[draw=white!70,line width=.8pt] (38,76) circle (29);
 \tx{9.6,121}{9.8}{white}{Julie O'lynn}
 \tx{9.6,133}{6.8}{white!85!blue}{PM - Emerging Market}
 \tx{9.6,154}{6.8}{white!85!blue}{JO3948 (SEOID)}
 \tx{9.6,165}{6.8}{white!85!blue}{NAM / USA (Region)}
 \draw[draw=white!85!blue,line width=.9pt,rounded corners=10.5pt] (159,119) rectangle (211,140);
 \bx[anchor=center]{185,129.5}{6.4}{white}{Email}
 \draw[draw=white!85!blue,line width=.9pt,rounded corners=10.5pt] (159,147) rectangle (211,168);
 \bx[anchor=center]{185,157.5}{6.4}{white}{Call}
 \mCard{190}{222}
 \begin{scope}\clip (0,0) rectangle (222,456);
 \begin{scope}[shift={(0,101)}]\mChatMsgs\end{scope}
 \end{scope}
\end{scope}
\end{pgfonlayer}
% ================= dots (connector ends)
\node[dotn] (dS1) at (311,313) {};
\node[dotn] (dS2) at (396,116) {};
\node[dotn] (dD1) at (599,145.5) {};
\node[dotn] (dD2) at (1419,145.5) {};
\node[dotn] (dM1) at (1654,84) {};
\node[dotn] (dM2) at (1829,284) {};
\node[dotn] (dN1) at (1829,628) {};
\node[dotn] (dN2) at (1969,674) {};
\node[dotn] (dN3) at (2103,833) {};
\node[dotn] (dN4) at (2211,873) {};
\node[dotn] (dSh) at (2346,997) {};
\node[dotn] (dCt) at (1440,1163) {};
\node[dotn] (dCh) at (1433,1265) {};
\node[dotn] (dDt) at (1700,1365) {};
\node[dotn] (dL1) at (1192,1440) {};
\node[dotn] (dL2) at (1312,1239) {};
\node[dotn] (dI1) at (431,1352.5) {};
\node[dotn] (dI2) at (556,1397) {};
\node[dotn] (dF1) at (202,750) {};
\node[dotn] (dF2) at (314,1180) {};
\node[dotn] (dO1) at (244,750) {};
\node[dotn] (dO2) at (1098,1157) {};
\node[dotn] (dFb) at (307,683) {};
\node[dotn] (dNw) at (572,995) {};
\node[dotn] (dNN) at (628,862) {};
\node[dotn] (dNM) at (787,475) {};
\node[dotn] (dD3) at (1017,412.5) {};
\node[dotn] (dD4) at (1162,500) {};
% ================= labels
\node[pillsty,minimum width=69pt,minimum height=22pt] (pSearch) at (359,190) {Search};
\node[pillsty,minimum width=124pt,minimum height=21pt] (pDoc) at (1025,145.5) {Document Detail};
\node[pillsty,minimum width=180pt,minimum height=22pt] (pMore) at (1829,171) {More Action - Share to Chat};
\node[pillsty,minimum width=86pt,minimum height=22pt] (pNote) at (1112,412.5) {Note Detail};
\node[pillsty,minimum width=84pt,minimum height=38pt] (pCNN) at (714,702) {Create\\New Note};
\node[pillsty,minimum width=93pt,minimum height=22pt] (pNew) at (352,992) {Create New};
\node[pillsty,minimum width=53pt,minimum height=20pt] (pFunds) at (202,879) {Funds};
\node[pillsty,minimum width=99pt,minimum height=21pt] (pOpp) at (647,1108) {OppIt - Chat};
\node[pillsty,minimum width=152pt,minimum height=20pt] (pShare) at (1879,1100.5) {Share Directly to Chat};
\node[pillsty,minimum width=105pt,minimum height=39pt] (pInt) at (524,1352.5) {Interactive\\Price Check};
\node[pillsty,minimum width=90pt,minimum height=22pt] (pLink) at (1261,1340) {Link to Chat};
\node[pillsty,minimum width=149pt,minimum height=22pt] (pSlide) at (1700,1304) {Slide to View Detail};
\coordinate (cF) at (202,1150);
\coordinate (cNew) at (359,985);
% ================= connectors
\begin{pgfonlayer}{cn}
\draw[conn] (dS1) -| (pSearch);
\draw[conn] (pSearch) |- (dS2);
\draw[conn] (dD1) -- (pDoc) -- (dD2);
\draw[conn] (dM1) -| (pMore);
\draw[conn] (pMore) -- (dM2);
\draw[conn] (dN1) |- (dN2);
\draw[conn] (dN3) |- (dN4);
\draw[conn] (dSh) |- (pShare);
\draw[conn] (pShare) -| (dCt);
\draw[conn] (dCh) -| (pSlide);
\draw[conn] (pSlide) -- (dDt);
\draw[conn] (dL1) -| (pLink);
\draw[conn] (pLink) |- (dL2);
\draw[conn] (dI1) -- (pInt);
\draw[conn] (pInt.south -| dI2) -- (dI2);
\draw[conn] (dF1) -- (pFunds) -- (cF) -| (dF2);
\draw[conn] (dO1) |- (pOpp);
\draw[conn] (pOpp) -| (dO2);
\draw[conn] (dFb) -| (cNew);
\draw[conn] (pNew.east |- dNw) -- (dNw);
\draw[conn] (dNN) -| (pCNN);
\draw[conn] (pCNN) |- (dNM);
\draw[conn] (dD3) -- (pNote);
\draw[conn] (pNote) -| (dD4);
\end{pgfonlayer}
\end{tikzpicture}
\end{document}
